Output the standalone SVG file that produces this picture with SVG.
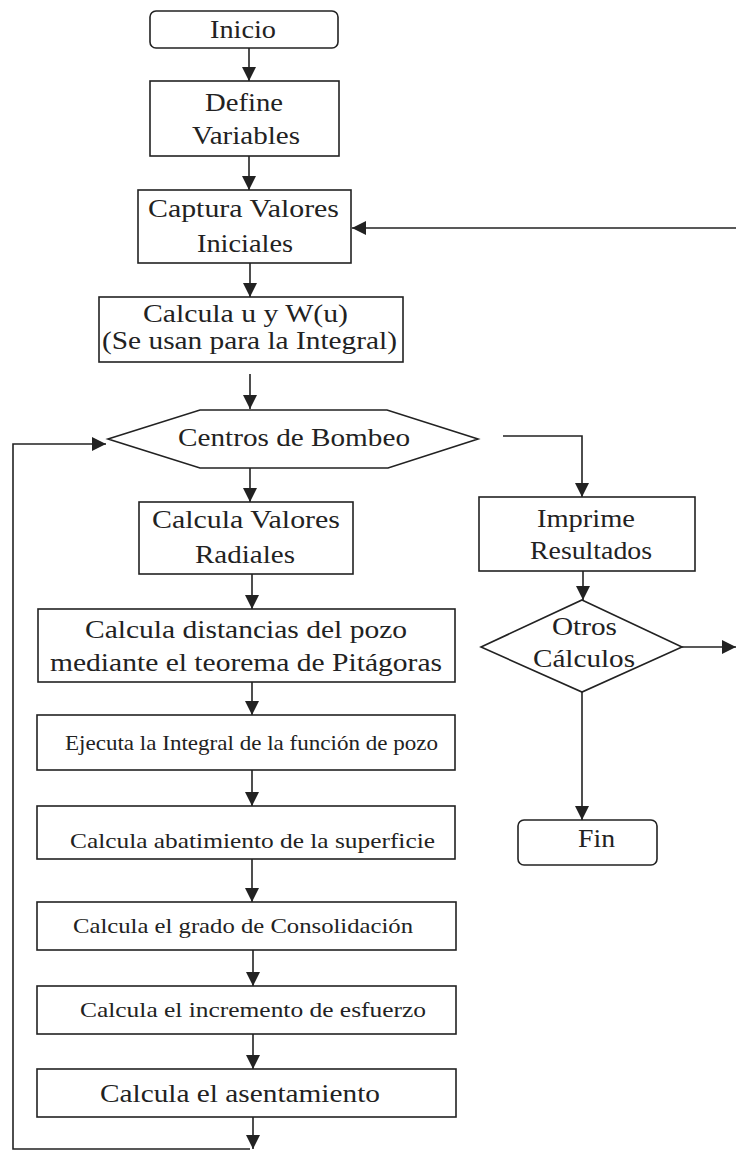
<svg xmlns="http://www.w3.org/2000/svg" width="736" height="1151" viewBox="0 0 736 1151">
<style>
.box{fill:#fff;stroke:#222;stroke-width:1.6}
.ln{fill:none;stroke:#222;stroke-width:1.6}
.ar{marker-end:url(#ah)}
text{font-family:"Liberation Serif","Times New Roman",serif;fill:#222;font-size:25px}
.s{font-size:22px}
.l{font-size:26px}
</style>
<defs>
<marker id="ah" viewBox="0 0 14 14" refX="14" refY="7" markerWidth="14" markerHeight="14" markerUnits="userSpaceOnUse" orient="auto">
<path d="M0,0 L14,7 L0,14 z" fill="#222"/>
</marker>
</defs>
<rect width="736" height="1151" fill="#fff"/>
<g id="connectors">
<line class="ln ar" x1="249" y1="48" x2="249" y2="81"/>
<line class="ln ar" x1="249" y1="156" x2="249" y2="190"/>
<line class="ln ar" x1="250" y1="263" x2="250" y2="297"/>
<line class="ln ar" x1="250" y1="374" x2="250" y2="409"/>
<line class="ln ar" x1="250" y1="468" x2="250" y2="502"/>
<line class="ln ar" x1="252" y1="574" x2="252" y2="609"/>
<line class="ln ar" x1="252" y1="682" x2="252" y2="715"/>
<line class="ln ar" x1="252" y1="770" x2="252" y2="806"/>
<line class="ln ar" x1="252" y1="859" x2="252" y2="902"/>
<line class="ln ar" x1="253" y1="950" x2="253" y2="986"/>
<line class="ln ar" x1="253" y1="1034" x2="253" y2="1069"/>
<line class="ln ar" x1="253" y1="1117" x2="253" y2="1149"/>
<polyline class="ln ar" points="250,1149 13,1149 13,444 106,444"/>
<polyline class="ln ar" points="503,436 582,436 582,497"/>
<line class="ln ar" x1="583" y1="571" x2="583" y2="600"/>
<line class="ln ar" x1="682" y1="647" x2="736" y2="647"/>
<line class="ln ar" x1="582" y1="692" x2="582" y2="820"/>
<line class="ln ar" x1="736" y1="228" x2="352" y2="228"/>
</g>
<g id="inicio">
<rect class="box" x="150" y="11" width="188" height="37" rx="6"/>
<text class="l" x="210" y="38" textLength="66" lengthAdjust="spacingAndGlyphs">Inicio</text>
</g>
<g id="define">
<rect class="box" x="150" y="81" width="189" height="75"/>
<text x="205" y="111" textLength="78" lengthAdjust="spacingAndGlyphs">Define</text>
<text x="192" y="144" textLength="108" lengthAdjust="spacingAndGlyphs">Variables</text>
</g>
<g id="captura">
<rect class="box" x="138" y="190" width="213" height="73"/>
<text x="148" y="217" textLength="191" lengthAdjust="spacingAndGlyphs">Captura Valores</text>
<text x="197" y="252" textLength="96" lengthAdjust="spacingAndGlyphs">Iniciales</text>
</g>
<g id="calcula-u">
<rect class="box" x="99" y="297" width="304" height="65"/>
<text x="143" y="322" textLength="205" lengthAdjust="spacingAndGlyphs">Calcula u y W(u)</text>
<text x="102" y="349" textLength="295" lengthAdjust="spacingAndGlyphs">(Se usan para la Integral)</text>
</g>
<g id="centros">
<polygon class="box" points="108,439 200,410 387,410 478,439 388,468 200,468"/>
<text x="178" y="446" textLength="232" lengthAdjust="spacingAndGlyphs">Centros de Bombeo</text>
</g>
<g id="valores-radiales">
<rect class="box" x="139" y="502" width="214" height="72"/>
<text x="152" y="528" textLength="188" lengthAdjust="spacingAndGlyphs">Calcula Valores</text>
<text x="195" y="563" textLength="100" lengthAdjust="spacingAndGlyphs">Radiales</text>
</g>
<g id="imprime">
<rect class="box" x="479" y="497" width="216" height="74"/>
<text x="537" y="527" textLength="98" lengthAdjust="spacingAndGlyphs">Imprime</text>
<text x="530" y="559" textLength="122" lengthAdjust="spacingAndGlyphs">Resultados</text>
</g>
<g id="otros">
<polygon class="box" points="582,600 682,647 582,692 481,647"/>
<text x="552" y="635" textLength="65" lengthAdjust="spacingAndGlyphs">Otros</text>
<text x="533" y="667" textLength="102" lengthAdjust="spacingAndGlyphs">Cálculos</text>
</g>
<g id="distancias">
<rect class="box" x="38" y="609" width="417" height="73"/>
<text x="85" y="638" textLength="322" lengthAdjust="spacingAndGlyphs">Calcula distancias del pozo</text>
<text x="50" y="671" textLength="392" lengthAdjust="spacingAndGlyphs">mediante el teorema de Pitágoras</text>
</g>
<g id="ejecuta">
<rect class="box" x="37" y="715" width="418" height="55"/>
<text class="s" x="65" y="750" textLength="373" lengthAdjust="spacingAndGlyphs">Ejecuta la Integral de la función de pozo</text>
</g>
<g id="abatimiento">
<rect class="box" x="37" y="806" width="418" height="53"/>
<text class="s" x="70" y="848" textLength="365" lengthAdjust="spacingAndGlyphs">Calcula abatimiento de la superficie</text>
</g>
<g id="grado">
<rect class="box" x="37" y="902" width="419" height="48"/>
<text class="s" x="73" y="933" textLength="340" lengthAdjust="spacingAndGlyphs">Calcula el grado de Consolidación</text>
</g>
<g id="incremento">
<rect class="box" x="37" y="986" width="419" height="48"/>
<text class="s" x="80" y="1017" textLength="346" lengthAdjust="spacingAndGlyphs">Calcula el incremento de esfuerzo</text>
</g>
<g id="asentamiento">
<rect class="box" x="37" y="1069" width="419" height="48"/>
<text class="l" x="100" y="1102" textLength="280" lengthAdjust="spacingAndGlyphs">Calcula el asentamiento</text>
</g>
<g id="fin">
<rect class="box" x="518" y="820" width="139" height="45" rx="6"/>
<text x="578" y="847" textLength="37" lengthAdjust="spacingAndGlyphs">Fin</text>
</g>
</svg>
